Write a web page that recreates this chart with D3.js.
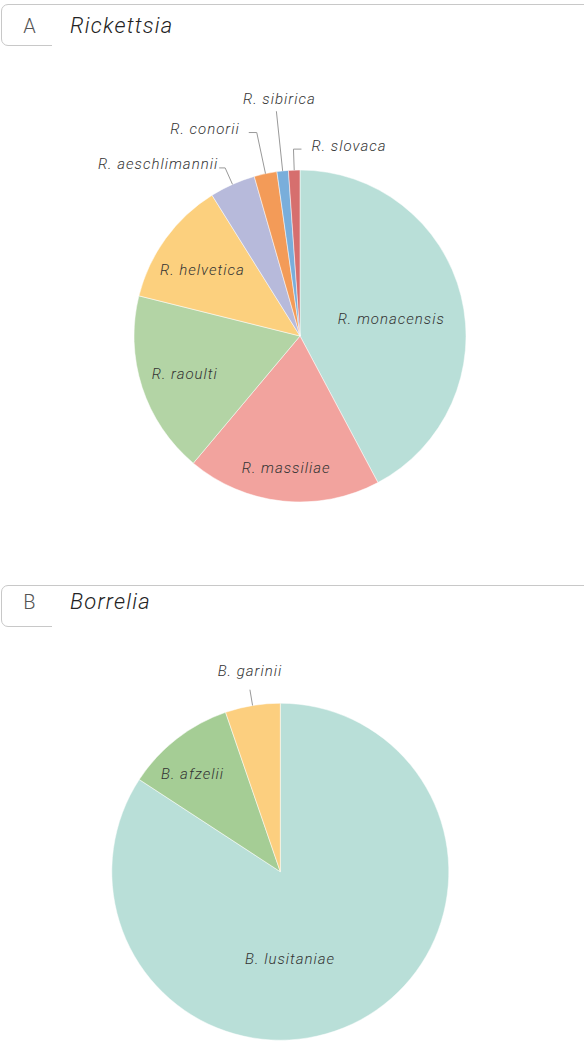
<!DOCTYPE html>
<html lang="en">
<head>
  <meta charset="UTF-8">
  <title>Rickettsia and Borrelia species</title>
  <script src="https://cdn.jsdelivr.net/npm/d3@7"></script>
  <style>
    body { margin: 0; background: #fff; }
    svg text { font-family: Roboto, "Liberation Sans", sans-serif; font-weight: 300; }
  </style>
</head>
<body>
<div id="chart"></div>
<script>
// species counts
const rickettsiaSpecies = ["R. monacensis", "R. massiliae", "R. raoulti", "R. helvetica",
  "R. aeschlimannii", "R. conorii", "R. sibirica", "R. slovaca"];
const rickettsiaCounts = [38, 17, 16, 11, 4, 2, 1, 1];
const rickettsiaColors = ["#b9dfd8", "#f2a39e", "#b3d4a5", "#fcd07e",
  "#b7badb", "#f39b58", "#79aedb", "#d66f6e"];

const borreliaSpecies = ["B. lusitaniae", "B. afzelii", "B. garinii"];
const borreliaCounts = [16, 2, 1];
const borreliaColors = ["#b9dfd8", "#a5cd95", "#fccf7f"];

const width = 584, height = 1046;

const svg = d3.select("#chart").append("svg")
  .attr("width", width)
  .attr("height", height);

// label placement: inside labels sit at k * radius, outside ones get a leader line
const panels = [
  {
    letter: "A", title: "Rickettsia", top: 4.5, titleY: 33,
    cx: 300, cy: 336, r: 166,
    names: rickettsiaSpecies, values: rickettsiaCounts, colors: rickettsiaColors,
    labels: [
      { k: 0.56, da: 3 }, { k: 0.8, da: 0 }, { k: 0.73, da: 0 }, { k: 0.71, da: -2 },
      { out: "left", len: 18, len2: 6, gap: 1 },
      { out: "left", len: 42, len2: 8, gap: 9 },
      { out: "top", len: 60, dx: 3, dy: -7 },
      { out: "right", len: 21, len2: 8, gap: 10 }
    ]
  },
  {
    letter: "B", title: "Borrelia", top: 585.5, titleY: 609,
    cx: 280.3, cy: 871.7, r: 168.5,
    names: borreliaSpecies, values: borreliaCounts, colors: borreliaColors,
    labels: [
      { k: 0.52, da: 22 }, { k: 0.78, da: -4 },
      { out: "top", len: 16, dx: 0, dy: -14 }
    ]
  }
];

const pie = d3.pie().sort(null).value(d => d);

panels.forEach(p => {
  const g = svg.append("g");

  // tab-like header
  const t = p.top, b = p.top + 41, rr = 6.5;
  g.append("path")
    .attr("d", `M${width},${t} H${1.5 + rr} A${rr},${rr} 0 0 0 1.5,${t + rr} V${b - rr} A${rr},${rr} 0 0 0 ${1.5 + rr},${b} H52`)
    .attr("fill", "none")
    .attr("stroke", "#c8c8c8")
    .attr("stroke-width", 1);

  g.append("text")
    .attr("x", 29.5).attr("y", p.titleY)
    .attr("text-anchor", "middle")
    .style("font-size", "20px")
    .style("fill", "#555")
    .text(p.letter);

  g.append("text")
    .attr("x", 70).attr("y", p.titleY)
    .style("font-size", "22px")
    .style("font-style", "italic")
    .style("letter-spacing", "1.2px")
    .style("fill", "#222")
    .text(p.title);

  const arcs = pie(p.values);
  const arc = d3.arc().innerRadius(0).outerRadius(p.r);
  const pieG = g.append("g").attr("transform", `translate(${p.cx},${p.cy})`);

  pieG.selectAll("path")
    .data(arcs)
    .join("path")
    .attr("d", arc)
    .attr("fill", (d, i) => p.colors[i])
    .attr("stroke", "#fff")
    .attr("stroke-width", 0.5);

  arcs.forEach((d, i) => {
    const lab = p.labels[i];
    const mid = (d.startAngle + d.endAngle) / 2;
    const txt = pieG.append("text")
      .style("font-size", "15px")
      .style("font-style", "italic")
      .style("letter-spacing", "1px")
      .style("fill", "#333")
      .text(p.names[i]);

    if (!lab.out) {
      const a = mid + lab.da * Math.PI / 180;
      txt.attr("x", Math.sin(a) * p.r * lab.k)
        .attr("y", -Math.cos(a) * p.r * lab.k)
        .attr("dy", "0.35em")
        .attr("text-anchor", "middle");
      return;
    }

    const sx = Math.sin(mid), sy = -Math.cos(mid);
    const x0 = sx * p.r, y0 = sy * p.r;
    const x1 = sx * (p.r + lab.len), y1 = sy * (p.r + lab.len);
    const pts = [[x0, y0], [x1, y1]];

    if (lab.out === "top") {
      txt.attr("x", x1 + lab.dx).attr("y", y1 + lab.dy).attr("text-anchor", "middle");
    } else {
      const dir = lab.out === "left" ? -1 : 1;
      const x2 = x1 + dir * lab.len2;
      pts.push([x2, y1]);
      txt.attr("x", x2 + dir * lab.gap).attr("y", y1 + 1.5)
        .attr("text-anchor", dir < 0 ? "end" : "start");
    }

    pieG.insert("path", "text")
      .attr("d", d3.line()(pts))
      .attr("fill", "none")
      .attr("stroke", "#999")
      .attr("stroke-width", 1);
  });
});
</script>
</body>
</html>
